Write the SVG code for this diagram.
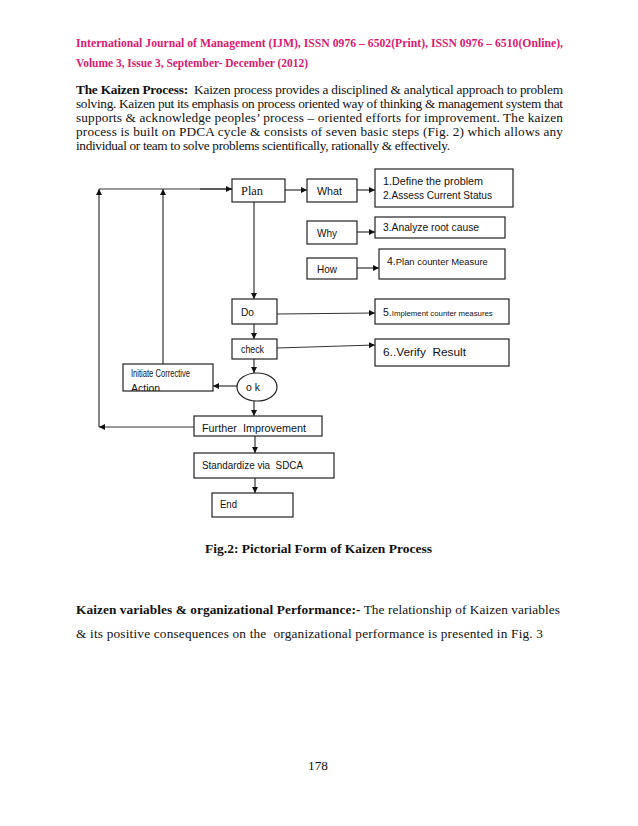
<svg xmlns="http://www.w3.org/2000/svg" width="638" height="826" viewBox="0 0 638 826">
<style>
text{white-space:pre}
.hdr{font-family:"Liberation Serif",serif;font-weight:bold;font-size:13px;fill:#d81b72}
.body{font-family:"Liberation Serif",serif;font-size:13.3px;fill:#111}
.b{font-weight:bold}
.box{fill:#fff;stroke:#222;stroke-width:1.2}
.lbl{font-family:"Liberation Sans",Arial,sans-serif;font-size:10.5px;fill:#111}
.ser{font-family:"Liberation Serif",serif;font-size:13px;fill:#111}
.ln{stroke:#333;stroke-width:1.2;fill:none;marker-end:url(#ah)}
.pl{stroke:#333;stroke-width:1.2;fill:none}
</style>
<defs>
<marker id="ah" viewBox="0 0 10 10" refX="10" refY="5" markerWidth="6" markerHeight="6" markerUnits="userSpaceOnUse" orient="auto">
<path d="M0,0 L10,5 L0,10 z" fill="#111"/>
</marker>
<clipPath id="cInit"><rect x="123" y="364" width="90" height="27"/></clipPath>
<clipPath id="cFur"><rect x="194" y="416" width="128" height="19.5"/></clipPath>
</defs>
<rect width="638" height="826" fill="#fff"/>

<text class="hdr" x="76" y="47" textLength="487" lengthAdjust="spacingAndGlyphs">International Journal of Management (IJM), ISSN 0976 – 6502(Print), ISSN 0976 – 6510(Online),</text>
<text class="hdr" x="76" y="67" textLength="232" lengthAdjust="spacingAndGlyphs">Volume 3, Issue 3, September- December (2012)</text>

<text class="body" x="76" y="94" textLength="487" lengthAdjust="spacing"><tspan class="b">The Kaizen Process:</tspan>  Kaizen process provides a disciplined &amp; analytical approach to problem</text>
<text class="body" x="76" y="108" textLength="487" lengthAdjust="spacing">solving. Kaizen put its emphasis on process oriented way of thinking &amp; management system that</text>
<text class="body" x="76" y="122" textLength="487" lengthAdjust="spacing">supports &amp; acknowledge peoples’ process – oriented efforts for improvement. The kaizen</text>
<text class="body" x="76" y="136" textLength="487" lengthAdjust="spacing">process is built on PDCA cycle &amp; consists of seven basic steps (Fig. 2) which allows any</text>
<text class="body" x="76" y="150" textLength="374" lengthAdjust="spacing">individual or team to solve problems scientifically, rationally &amp; effectively.</text>

<g id="connectors">
<polyline class="ln" points="99,427 99,189"/>
<line class="pl" x1="99" y1="189" x2="232" y2="189"/>
<line class="ln" x1="200" y1="189" x2="232" y2="189"/>
<line class="ln" x1="163" y1="364" x2="163" y2="189"/>
<line class="ln" x1="285" y1="190" x2="307" y2="190"/>
<line class="ln" x1="357" y1="190" x2="375" y2="190"/>
<line class="ln" x1="357" y1="232" x2="375" y2="232"/>
<line class="ln" x1="357" y1="268" x2="379" y2="268"/>
<line class="ln" x1="254" y1="202" x2="254" y2="299"/>
<line class="ln" x1="277" y1="314" x2="375" y2="313"/>
<line class="ln" x1="277" y1="348" x2="375" y2="345"/>
<line class="ln" x1="254" y1="324" x2="254" y2="339"/>
<line class="ln" x1="254" y1="359" x2="254" y2="373"/>
<line class="ln" x1="237" y1="386" x2="213" y2="386"/>
<line class="ln" x1="254" y1="401" x2="254" y2="416"/>
<line class="ln" x1="194" y1="427" x2="99" y2="427"/>
<line class="ln" x1="255" y1="436" x2="255" y2="453"/>
<line class="ln" x1="255" y1="478" x2="255" y2="493"/>
</g>

<g id="plan"><rect class="box" x="232" y="179" width="53" height="23"/><text class="ser" x="241" y="195" textLength="22" lengthAdjust="spacingAndGlyphs">Plan</text></g>
<g id="what"><rect class="box" x="307" y="179" width="50" height="23"/><text class="lbl" x="317" y="195" textLength="25" lengthAdjust="spacingAndGlyphs">What</text></g>
<g id="step12"><rect class="box" x="375" y="169" width="138" height="38"/><text class="lbl" x="383" y="185" textLength="100" lengthAdjust="spacingAndGlyphs">1.Define the problem</text><text class="lbl" x="383" y="199" textLength="109" lengthAdjust="spacingAndGlyphs">2.Assess Current Status</text></g>
<g id="why"><rect class="box" x="307" y="221" width="50" height="23"/><text class="lbl" x="317" y="237" textLength="20" lengthAdjust="spacingAndGlyphs">Why</text></g>
<g id="step3"><rect class="box" x="375" y="217" width="130" height="21"/><text class="lbl" x="383" y="231" textLength="96" lengthAdjust="spacingAndGlyphs">3.Analyze root cause</text></g>
<g id="how"><rect class="box" x="307" y="258" width="50" height="21"/><text class="lbl" x="317" y="273" textLength="20" lengthAdjust="spacingAndGlyphs">How</text></g>
<g id="step4"><rect class="box" x="379" y="249" width="126" height="30"/><text class="lbl" x="387" y="265">4.<tspan font-size="8.5" textLength="92" lengthAdjust="spacingAndGlyphs">Plan counter Measure</tspan></text></g>
<g id="do"><rect class="box" x="232" y="299" width="45" height="25"/><text class="lbl" x="241" y="316" textLength="13" lengthAdjust="spacingAndGlyphs">Do</text></g>
<g id="step5"><rect class="box" x="375" y="299" width="134" height="25"/><text class="lbl" x="383" y="316">5.<tspan font-size="7" textLength="101" lengthAdjust="spacingAndGlyphs">Implement counter measures</tspan></text></g>
<g id="check"><rect class="box" x="232" y="339" width="45" height="20"/><text class="lbl" x="241" y="353" font-size="9.5" textLength="23" lengthAdjust="spacingAndGlyphs">check</text></g>
<g id="step6"><rect class="box" x="375" y="339" width="134" height="27"/><text class="lbl" x="383" y="356" font-size="10" textLength="83" lengthAdjust="spacingAndGlyphs">6..Verify  Result</text></g>
<g id="initiate"><rect class="box" x="123" y="364" width="90" height="27"/><g clip-path="url(#cInit)"><text class="lbl" x="131" y="377" font-size="6.8" textLength="59" lengthAdjust="spacingAndGlyphs">Initiate Corrective</text><text class="lbl" x="131" y="392" font-size="6.8">Action</text></g></g>
<g id="ok"><ellipse class="box" cx="257" cy="387" rx="20" ry="14"/><text class="lbl" x="246" y="391" textLength="14" lengthAdjust="spacing">ok</text></g>
<g id="further"><rect class="box" x="194" y="416" width="128" height="20"/><g clip-path="url(#cFur)"><text class="lbl" x="202" y="432" textLength="104" lengthAdjust="spacingAndGlyphs">Further  Improvement</text></g></g>
<g id="standardize"><rect class="box" x="194" y="453" width="140" height="25"/><text class="lbl" x="202" y="469" textLength="101" lengthAdjust="spacingAndGlyphs">Standardize via  SDCA</text></g>
<g id="end"><rect class="box" x="212" y="493" width="81" height="24"/><text class="lbl" x="220" y="508" textLength="17" lengthAdjust="spacingAndGlyphs">End</text></g>

<text class="body b" x="205" y="553" font-size="14" textLength="227" lengthAdjust="spacingAndGlyphs">Fig.2: Pictorial Form of Kaizen Process</text>

<text class="body" x="76" y="614" textLength="484" lengthAdjust="spacing"><tspan class="b">Kaizen variables &amp; organizational Performance:-</tspan> The relationship of Kaizen variables</text>
<text class="body" x="76" y="638" textLength="467" lengthAdjust="spacing">&amp; its positive consequences on the  organizational performance is presented in Fig. 3</text>

<text class="body" x="318" y="770" text-anchor="middle" font-size="12">178</text>
</svg>
